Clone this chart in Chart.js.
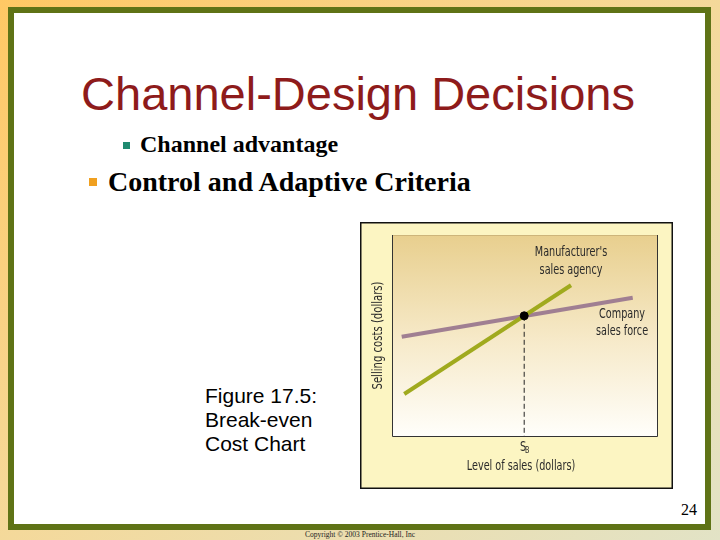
<!DOCTYPE html>
<html>
<head>
<meta charset="utf-8">
<script src="https://cdn.jsdelivr.net/npm/chart.js@4.4.0/dist/chart.umd.min.js"></script>
<style>
  html, body { margin: 0; padding: 0; }
  body {
    width: 720px; height: 540px; position: relative; overflow: hidden;
    background: linear-gradient(to bottom right, #ffc864 0%, #f6d896 45%, #e2e3c6 100%);
  }
  .frame {
    position: absolute; left: 8px; top: 7px; width: 691px; height: 511px;
    border: 6px solid #5f7316; background: #fff;
  }
  .title {
    position: absolute; left: 0; width: 716px; top: 66px; text-align: center;
    font-family: "Liberation Sans", Arial, sans-serif; font-size: 47px; color: #8e1b1b;
  }
  .b1, .b2 { position: absolute; font-family: "Liberation Serif", "Times New Roman", serif; font-weight: bold; color: #000; white-space: nowrap; }
  .b1 { left: 140px; top: 131px; font-size: 24px; }
  .b2 { left: 108px; top: 166px; font-size: 28px; }
  .sq { position: absolute; }
  .sq1 { left: 123px; top: 142px; width: 7px; height: 7px; background: #1f8a70; }
  .sq2 { left: 89px; top: 178px; width: 8px; height: 8px; background: #f0a020; }
  .cap {
    position: absolute; left: 205px; top: 384px; font-family: "Liberation Sans", Arial, sans-serif;
    font-size: 21px; line-height: 24px; color: #000;
  }
  .page { position: absolute; left: 681px; top: 501px; font-family: "Liberation Serif", serif; font-size: 16px; color: #000; }
  .copy { position: absolute; left: 0; width: 720px; top: 530px; text-align: center; font-family: "Liberation Serif", serif; font-size: 7.5px; color: #222; }
  #wrap { position: absolute; left: 360px; top: 222px; width: 313px; height: 267px; }
</style>
</head>
<body>
<div class="frame"></div>
<div class="title">Channel-Design Decisions</div>
<div class="sq sq1"></div>
<div class="b1">Channel advantage</div>
<div class="sq sq2"></div>
<div class="b2">Control and Adaptive Criteria</div>
<div class="cap">Figure 17.5:<br>Break-even<br>Cost Chart</div>
<div class="page">24</div>
<div class="copy">Copyright © 2003 Prentice-Hall, Inc</div>
<div id="wrap"><canvas id="c" width="313" height="267"></canvas></div>
<script>
// values (arbitrary 0-100 units on both axes)
const agencyX = [4.6, 67.3];
const agencyY = [20.9, 75.0];
const forceX = [3.65, 90.5];
const forceY = [49.4, 68.8];
const breakEven = { x: 49.7, y: 59.8 };

const xTitle = 'Level of sales (dollars)';
const yTitle = 'Selling costs (dollars)';
const agencyLabel = ["Manufacturer's", 'sales agency'];
const forceLabel = ['Company', 'sales force'];

const labelFont = "'DejaVu Sans', sans-serif";

// condensed text: squeeze horizontally like the original narrow face
function narrowText(ctx, text, x, y, size, squeeze) {
  ctx.save();
  ctx.translate(x, y);
  ctx.scale(squeeze, 1);
  ctx.font = size + 'px ' + labelFont;
  ctx.fillText(text, 0, 0);
  ctx.restore();
}

const boxPlugin = {
  id: 'box',
  beforeDraw(chart) {
    const { ctx, chartArea: a, width, height } = chart;
    ctx.save();
    ctx.fillStyle = '#fcf5c2';
    ctx.fillRect(0, 0, width, height);
    ctx.strokeStyle = '#111';
    ctx.lineWidth = 1.5;
    ctx.strokeRect(0.75, 0.75, width - 1.5, height - 1.5);
    const g = ctx.createLinearGradient(0, a.top, 0, a.bottom);
    g.addColorStop(0, '#e8cf8e');
    g.addColorStop(0.55, '#f7ebcc');
    g.addColorStop(1, '#fffefa');
    ctx.fillStyle = g;
    ctx.fillRect(a.left, a.top, a.right - a.left, a.bottom - a.top);
    ctx.strokeStyle = '#cdb57a';
    ctx.lineWidth = 1;
    ctx.beginPath();
    ctx.moveTo(a.left, a.top + 0.5); ctx.lineTo(a.right, a.top + 0.5);
    ctx.stroke();
    ctx.strokeStyle = '#333';
    ctx.beginPath();
    ctx.moveTo(a.left + 0.5, a.top); ctx.lineTo(a.left + 0.5, a.bottom + 0.5);
    ctx.lineTo(a.right - 0.5, a.bottom + 0.5); ctx.lineTo(a.right - 0.5, a.top);
    ctx.stroke();
    ctx.restore();
  },
  afterDraw(chart) {
    const { ctx, chartArea: a, scales } = chart;
    const px = v => scales.x.getPixelForValue(v);
    const py = v => scales.y.getPixelForValue(v);
    ctx.save();
    ctx.fillStyle = '#2a2a2a';
    ctx.textAlign = 'center';
    ctx.textBaseline = 'middle';
    narrowText(ctx, agencyLabel[0], px(67.3), a.top + 17, 14, 0.69);
    narrowText(ctx, agencyLabel[1], px(67.3), a.top + 35, 14, 0.69);
    narrowText(ctx, forceLabel[0], px(86.5), py(59.8) - 1, 14, 0.69);
    narrowText(ctx, forceLabel[1], px(86.5), py(59.8) + 16, 14, 0.69);
    narrowText(ctx, xTitle, px(48.5), a.bottom + 30, 14, 0.69);
    // S with subscript B under the break-even point
    narrowText(ctx, 'S', px(breakEven.x) - 1, a.bottom + 11, 14, 0.7);
    narrowText(ctx, 'B', px(breakEven.x) + 3, a.bottom + 15, 8, 0.8);
    ctx.translate(18, (a.top + a.bottom) / 2);
    ctx.rotate(-Math.PI / 2);
    narrowText(ctx, yTitle, 0, 0, 14, 0.72);
    ctx.restore();
  }
};

new Chart(document.getElementById('c'), {
  type: 'scatter',
  data: {
    datasets: [
      {
        data: [{ x: breakEven.x, y: breakEven.y }],
        pointRadius: 4, pointBackgroundColor: '#000', pointBorderColor: '#000'
      },
      {
        data: [{ x: breakEven.x, y: breakEven.y }, { x: breakEven.x, y: 0 }],
        showLine: true, borderColor: '#222', borderWidth: 1, borderDash: [5, 3],
        pointRadius: 0
      },
      {
        data: agencyX.map((x, i) => ({ x, y: agencyY[i] })),
        showLine: true, borderColor: '#a0aa1e', borderWidth: 4, pointRadius: 0
      },
      {
        data: forceX.map((x, i) => ({ x, y: forceY[i] })),
        showLine: true, borderColor: '#a07f92', borderWidth: 4, pointRadius: 0
      }
    ]
  },
  options: {
    responsive: false,
    animation: false,
    layout: { padding: { left: 32, top: 13, right: 15, bottom: 53 } },
    plugins: { legend: { display: false }, tooltip: { enabled: false } },
    scales: {
      x: { display: false, min: 0, max: 100 },
      y: { display: false, min: 0, max: 100 }
    }
  },
  plugins: [boxPlugin]
});
</script>
</body>
</html>
